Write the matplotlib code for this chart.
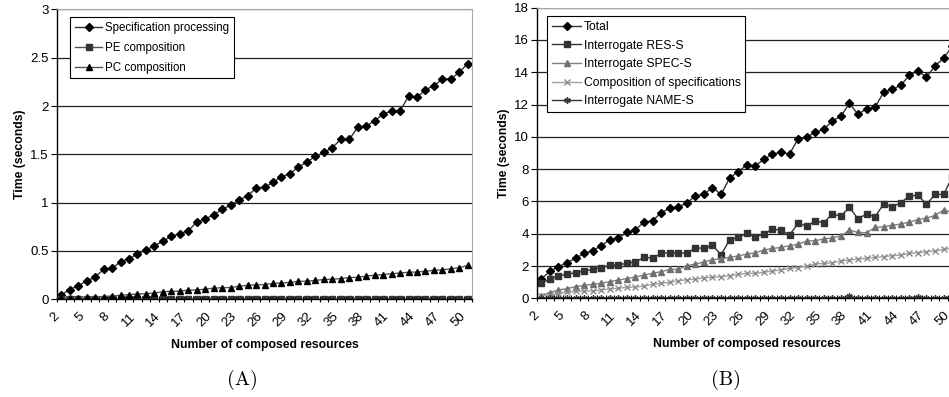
import numpy as np
import matplotlib
matplotlib.use("Agg")
import matplotlib.pyplot as plt
from matplotlib.ticker import FixedLocator, MultipleLocator

plt.rcParams['font.family'] = ['Liberation Sans', 'DejaVu Sans']

# number of composed resources (categories 2..50)
resources = list(range(2, 51))
tick_labels = [2, 5, 8, 11, 14, 17, 20, 23, 26, 29, 32, 35, 38, 41, 44, 47, 50]

# (A) times in seconds
spec_processing = [0.045, 0.10, 0.14, 0.19, 0.23, 0.31, 0.32, 0.39, 0.42, 0.47,
                   0.51, 0.555, 0.60, 0.655, 0.68, 0.71, 0.80, 0.83, 0.875, 0.93,
                   0.975, 1.03, 1.07, 1.15, 1.16, 1.21, 1.27, 1.30, 1.37, 1.42,
                   1.48, 1.52, 1.57, 1.655, 1.655, 1.78, 1.79, 1.85, 1.915, 1.95,
                   1.95, 2.10, 2.09, 2.17, 2.21, 2.28, 2.28, 2.35, 2.44]
pe_composition = [0.002, 0.002, 0.002, 0.002, 0.002, 0.002, 0.002, 0.002, 0.002, 0.002,
                  0.002, 0.002, 0.002, 0.002, 0.002, 0.002, 0.002, 0.002, 0.002, 0.002,
                  0.002, 0.002, 0.002, 0.002, 0.002, 0.002, 0.002, 0.002, 0.002, 0.002,
                  0.002, 0.002, 0.002, 0.002, 0.002, 0.002, 0.002, 0.002, 0.002, 0.002,
                  0.002, 0.002, 0.002, 0.002, 0.002, 0.002, 0.002, 0.002, 0.002]
pc_composition = [0.010, 0.012, 0.015, 0.020, 0.025, 0.028, 0.035, 0.042, 0.048, 0.055,
                  0.058, 0.065, 0.078, 0.082, 0.085, 0.095, 0.097, 0.105, 0.115, 0.120,
                  0.122, 0.135, 0.145, 0.150, 0.152, 0.165, 0.168, 0.175, 0.185, 0.188,
                  0.195, 0.205, 0.208, 0.215, 0.225, 0.228, 0.240, 0.250, 0.255, 0.265,
                  0.272, 0.280, 0.282, 0.290, 0.300, 0.305, 0.315, 0.328, 0.350]

# (B) times in seconds
total = [1.20, 1.67, 1.96, 2.20, 2.48, 2.78, 2.96, 3.24, 3.64, 3.73,
         4.08, 4.24, 4.72, 4.80, 5.31, 5.57, 5.68, 5.88, 6.36, 6.43,
         6.86, 6.43, 7.44, 7.85, 8.26, 8.20, 8.60, 8.93, 9.05, 8.93,
         9.87, 9.97, 10.28, 10.46, 10.98, 11.27, 12.07, 11.39, 11.74, 11.83,
         12.77, 12.94, 13.19, 13.81, 14.07, 13.70, 14.38, 14.86, 15.60]
res_s = [0.93, 1.20, 1.40, 1.48, 1.59, 1.69, 1.79, 1.88, 2.06, 2.08,
         2.16, 2.25, 2.54, 2.49, 2.78, 2.82, 2.82, 2.78, 3.13, 3.09,
         3.28, 2.70, 3.61, 3.77, 4.02, 3.81, 3.98, 4.27, 4.23, 3.92,
         4.64, 4.47, 4.78, 4.68, 5.22, 5.09, 5.63, 4.93, 5.22, 5.05,
         5.84, 5.67, 5.92, 6.33, 6.39, 5.81, 6.43, 6.43, 7.50]
spec_s = [0.16, 0.35, 0.52, 0.60, 0.72, 0.80, 0.87, 0.93, 1.03, 1.13,
          1.22, 1.32, 1.44, 1.55, 1.65, 1.79, 1.79, 2.02, 2.12, 2.25,
          2.39, 2.45, 2.54, 2.62, 2.74, 2.82, 2.99, 3.09, 3.15, 3.26,
          3.34, 3.55, 3.57, 3.67, 3.75, 3.86, 4.23, 4.08, 4.06, 4.39,
          4.43, 4.52, 4.60, 4.72, 4.87, 4.97, 5.13, 5.46, 5.35]
composition = [0.14, 0.20, 0.30, 0.37, 0.43, 0.45, 0.45, 0.52, 0.58, 0.62,
               0.68, 0.70, 0.76, 0.87, 0.93, 0.99, 1.09, 1.15, 1.18, 1.28,
               1.30, 1.34, 1.40, 1.48, 1.55, 1.55, 1.61, 1.69, 1.75, 1.86,
               1.90, 2.00, 2.12, 2.16, 2.20, 2.31, 2.37, 2.43, 2.47, 2.54,
               2.58, 2.64, 2.68, 2.78, 2.82, 2.89, 2.93, 3.03, 3.09]
name_s = [0.03, 0.02, 0.03, 0.03, 0.02, 0.03, 0.03, 0.02, 0.03, 0.03,
          0.03, 0.02, 0.03, 0.03, 0.03, 0.02, 0.03, 0.03, 0.03, 0.02,
          0.03, 0.03, 0.02, 0.03, 0.03, 0.03, 0.02, 0.03, 0.03, 0.03,
          0.03, 0.02, 0.03, 0.03, 0.03, 0.03, 0.12, 0.03, 0.03, 0.02,
          0.03, 0.03, 0.03, 0.03, 0.10, 0.03, 0.03, 0.03, 0.10]

TICK_FS = 9.5
LABEL_FS = 8.8


def style_axes(ax, ymax, ystep):
    ax.set_xlim(1.5, 50.5)
    ax.set_ylim(0, ymax)
    ax.yaxis.set_major_locator(MultipleLocator(ystep))
    ax.yaxis.grid(True, color='#202020', lw=0.9)
    ax.set_axisbelow(True)
    ax.xaxis.set_major_locator(FixedLocator(tick_labels))
    ax.xaxis.set_minor_locator(FixedLocator(np.arange(1.5, 51, 1.0)))
    ax.tick_params(axis='x', which='major', length=0, pad=8, labelsize=TICK_FS)
    ax.tick_params(axis='x', which='minor', length=4, direction='inout', width=0.8)
    ax.tick_params(axis='y', which='major', length=4, direction='out', width=0.8,
                   labelsize=TICK_FS, pad=2)
    for lab in ax.get_xticklabels():
        lab.set_rotation(45)
        lab.set_ha('right')
        lab.set_va('top')
    for side in ['top', 'right']:
        ax.spines[side].set_color('#a8a8a8')
    for side in ['left', 'bottom']:
        ax.spines[side].set_color('black')
        ax.spines[side].set_linewidth(1.0)
    ax.set_ylabel('Time (seconds)', fontweight='bold', fontsize=LABEL_FS, labelpad=3)
    ax.set_xlabel('Number of composed resources', fontweight='bold',
                  fontsize=LABEL_FS, labelpad=7)


def boxed_legend(ax, anchor, fs, spacing, pad):
    leg = ax.legend(loc='upper left', bbox_to_anchor=anchor, fontsize=fs,
                    frameon=True, fancybox=False, edgecolor='black', framealpha=1,
                    handlelength=2.4, handletextpad=0.2, labelspacing=spacing,
                    borderpad=pad, borderaxespad=0)
    leg.get_frame().set_linewidth(0.8)
    return leg


fig = plt.figure(figsize=(9.49, 3.97), dpi=100)

# panel A
axA = fig.add_axes([0.0601, 0.2461, 0.4373, 0.7300])
axA.plot(resources, spec_processing, color='#333333', lw=1, marker='D', ms=3.6,
         mfc='black', mec='black', label='Specification processing')
axA.plot(resources, pe_composition, color='#555555', lw=1, marker='s', ms=3.8,
         mfc='#333333', mec='#333333', label='PE composition')
axA.plot(resources, pc_composition, color='#555555', lw=1, marker='^', ms=4.6,
         mfc='black', mec='black', label='PC composition')
style_axes(axA, 3, 0.5)
axA.yaxis.set_major_formatter(plt.FuncFormatter(lambda v, p: '%g' % v))
boxed_legend(axA, (0.031, 0.974), 8.3, 0.68, 0.42)

# panel B (right side runs past the figure edge)
axB = fig.add_axes([0.5659, 0.2486, 0.4419, 0.7322])
axB.plot(resources, total, color='#333333', lw=1, marker='D', ms=3.6,
         mfc='black', mec='black', label='Total')
axB.plot(resources, res_s, color='#333333', lw=1, marker='s', ms=3.8,
         mfc='#333333', mec='#333333', label='Interrogate RES-S')
axB.plot(resources, spec_s, color='#808080', lw=1, marker='^', ms=4.6,
         mfc='#707070', mec='#707070', label='Interrogate SPEC-S')
axB.plot(resources, composition, color='#a0a0a0', lw=1, marker='x', ms=3.8,
         mew=1, mec='#8c8c8c', label='Composition of specifications')
axB.plot(resources, name_s, color='#333333', lw=1, marker=(6, 2, 0), ms=4.6,
         mew=1, mec='#333333', label='Interrogate NAME-S')
style_axes(axB, 18, 2)
boxed_legend(axB, (0.0246, 0.971), 8.7, 0.55, 0.4)

# captions
fig.text(242.5 / 949, 1 - 380 / 397, '(A)', family='cmr10', fontsize=14.5,
         ha='center', va='center')
fig.text(726 / 949, 1 - 379.5 / 397, '(B)', family='cmr10', fontsize=14.5,
         ha='center', va='center')

fig.savefig('out.png', dpi=100)
